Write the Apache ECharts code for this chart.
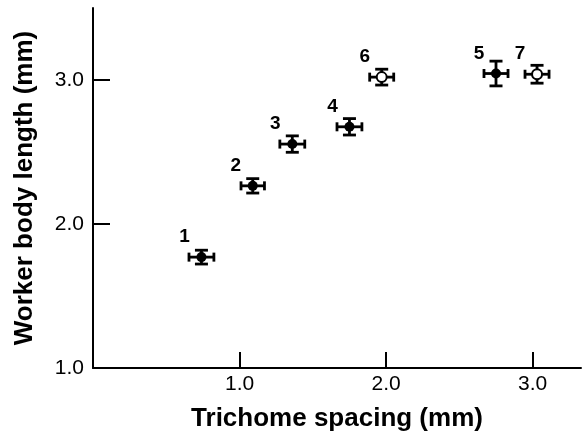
<!DOCTYPE html>
<html>
<head>
<meta charset="utf-8">
<script src="https://cdn.jsdelivr.net/npm/echarts@6/dist/echarts.min.js"></script>
<style>
    html, body {margin: 0; padding: 0; background: #fff;}
    #chart {width: 583px; height: 437px;}
</style>
</head>
<body>
<div id="chart"></div>
<script>
// Values
const pointLabels = ['1', '2', '3', '4', '5', '6', '7'];
const trichomeSpacing = [0.74, 1.09, 1.36, 1.75, 2.75, 1.97, 3.03];
const spacingErr = [0.085, 0.08, 0.085, 0.085, 0.082, 0.082, 0.082];
const bodyLength = [1.77, 2.265, 2.555, 2.675, 3.045, 3.02, 3.04];
const lengthErr = [0.048, 0.05, 0.057, 0.057, 0.086, 0.055, 0.062];
const openMarker = [false, false, false, false, false, true, true];

const xTicks = [1, 2, 3];
const yTicks = [2, 3];
const yLabels = [1, 2, 3];

const font = 'Liberation Sans, Arial, sans-serif';

const chart = echarts.init(document.getElementById('chart'), null, {renderer: 'canvas'});

const errRows = trichomeSpacing.map((x, i) => [x, bodyLength[i], spacingErr[i], lengthErr[i]]);

function renderErr(params, api) {
    const x = api.value(0);
    const y = api.value(1);
    const xe = api.value(2);
    const ye = api.value(3);
    const l = api.coord([x - xe, y]);
    const r = api.coord([x + xe, y]);
    const t = api.coord([x, y + ye]);
    const b = api.coord([x, y - ye]);
    const style = {stroke: '#000', lineWidth: 2.8};
    const capW = 6.5;
    const capH = 4.5;
    const line = (x1, y1, x2, y2) => ({type: 'line', shape: {x1, y1, x2, y2}, style});
    return {
        type: 'group',
        children: [
            line(l[0], l[1], r[0], r[1]),
            line(t[0], t[1], b[0], b[1]),
            line(l[0], l[1] - capH, l[0], l[1] + capH),
            line(r[0], r[1] - capH, r[0], r[1] + capH),
            line(t[0] - capW, t[1], t[0] + capW, t[1]),
            line(b[0] - capW, b[1], b[0] + capW, b[1]),
        ],
    };
}

chart.setOption({
    animation: false,
    backgroundColor: '#fff',
    grid: {left: 93, right: 2, top: 8, bottom: 65},
    xAxis: {
        type: 'value',
        min: 0,
        max: 3.33,
        interval: 1,
        name: 'Trichome spacing (mm)',
        nameLocation: 'middle',
        nameGap: 38,
        nameTextStyle: {fontFamily: font, fontSize: 26, fontWeight: 'bold', color: '#000'},
        axisLine: {show: true, onZero: false, lineStyle: {color: '#000', width: 2}},
        axisTick: {show: true, inside: true, length: 16, customValues: xTicks,
            lineStyle: {color: '#000', width: 2}},
        axisLabel: {customValues: xTicks, margin: 6, fontFamily: font, fontSize: 21, color: '#000',
            formatter: v => v.toFixed(1)},
        splitLine: {show: false},
    },
    yAxis: {
        type: 'value',
        min: 1,
        max: 3.5,
        interval: 0.5,
        name: 'Worker body length (mm)',
        nameLocation: 'middle',
        nameGap: 55,
        nameTextStyle: {fontFamily: font, fontSize: 26, fontWeight: 'bold', color: '#000'},
        axisLine: {show: true, onZero: false, lineStyle: {color: '#000', width: 2}},
        axisTick: {show: true, inside: true, length: 17, customValues: yTicks,
            lineStyle: {color: '#000', width: 2}},
        axisLabel: {customValues: yLabels, margin: 9, fontFamily: font, fontSize: 21, color: '#000',
            formatter: v => v.toFixed(1)},
        splitLine: {show: false},
    },
    series: [{
        type: 'custom',
        renderItem: renderErr,
        data: errRows,
        z: 2,
        silent: true,
    }, {
        type: 'scatter',
        z: 3,
        symbol: 'circle',
        symbolSize: 10,
        data: trichomeSpacing.map((x, i) => ({
            value: [x, bodyLength[i]],
            itemStyle: {
                color: openMarker[i] ? '#fff' : '#000',
                borderColor: '#000',
                borderWidth: openMarker[i] ? 2 : 0,
                opacity: 1,
            },
        })),
        label: {
            show: true,
            position: 'inside',
            offset: [-17, -20],
            formatter: p => pointLabels[p.dataIndex],
            fontFamily: font,
            fontSize: 19,
            fontWeight: 'bold',
            color: '#000',
            textBorderWidth: 0,
        },
    }],
});
</script>
</body>
</html>
